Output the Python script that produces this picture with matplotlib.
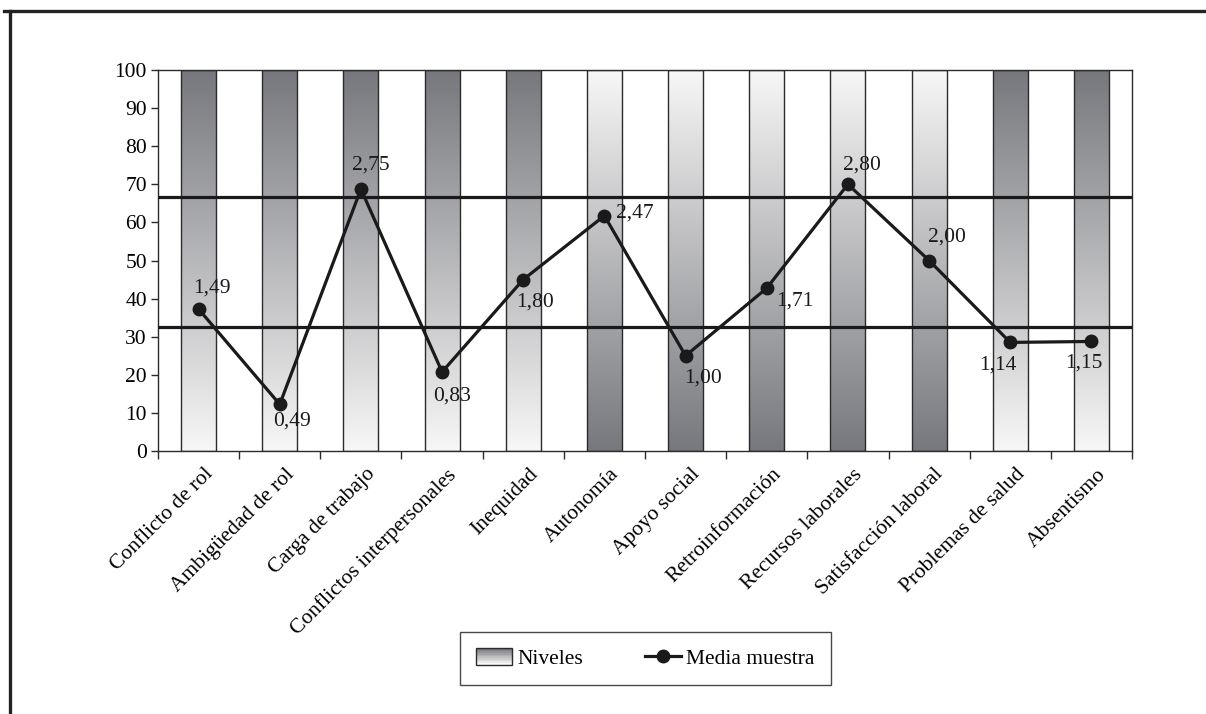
import numpy as np
import matplotlib
matplotlib.use("Agg")
import matplotlib.pyplot as plt
from matplotlib.colors import LinearSegmentedColormap
from matplotlib.lines import Line2D
from matplotlib.patches import Rectangle
from matplotlib.legend_handler import HandlerBase

# --- data -------------------------------------------------------------
categorias = [
    "Conflicto de rol", "Ambigüedad de rol", "Carga de trabajo",
    "Conflictos interpersonales", "Inequidad", "Autonomía", "Apoyo social",
    "Retroinformación", "Recursos laborales", "Satisfacción laboral",
    "Problemas de salud", "Absentismo",
]
# sample mean on the 0-4 response scale
media_muestra = [1.49, 0.49, 2.75, 0.83, 1.80, 2.47, 1.00, 1.71, 2.80, 2.00, 1.14, 1.15]
escala_max = 4.0
# level bands (percent of scale)
niveles = [100] * 12
# direction of the level shading: 'alto' = worst values at the top
polaridad = ["alto", "alto", "alto", "alto", "alto",
             "bajo", "bajo", "bajo", "bajo", "bajo",
             "alto", "alto"]
cortes = [32.5, 66.7]
y_ticks = list(range(0, 101, 10))

# --- style ------------------------------------------------------------
plt.rcParams["font.family"] = ["Liberation Serif", "DejaVu Serif"]
FS = 15.5
dark = "#77787d"
light = "#f7f7f7"
cmap = LinearSegmentedColormap.from_list("niv", [light, dark])

fig = plt.figure(figsize=(12.06, 7.14), dpi=100)
ax = fig.add_axes([158 / 1206, 1 - 451 / 714, (1132 - 158) / 1206, (451 - 70) / 714])

x = np.arange(len(categorias))
w = 0.43
grad = np.linspace(0, 1, 256).reshape(-1, 1)
for xi, h, pol in zip(x, niveles, polaridad):
    g = grad if pol == "alto" else grad[::-1]
    ax.imshow(g, cmap=cmap, vmin=0, vmax=1, extent=[xi - w / 2, xi + w / 2, 0, h],
              origin="lower", aspect="auto", zorder=1, interpolation="bilinear")
ax.bar(x, niveles, width=w, fill=False, edgecolor="#2b2b2b", linewidth=1.0, zorder=2)

for c in cortes:
    ax.axhline(c, color="#1a1a1a", linewidth=2.3, zorder=3)

y_pct = [m / escala_max * 100 for m in media_muestra]
ax.plot(x, y_pct, color="#1a1a1a", linewidth=2.3, marker="o", markersize=9,
        markerfacecolor="#1a1a1a", markeredgecolor="#1a1a1a", zorder=4)

# label placement in pixels relative to each point
desp = [(13, 21), (12, -17), (10, 24), (10, -24), (12, -22), (30, 3),
        (17, -22), (28, -13), (14, 19), (18, 23), (-12, -23), (-8, -22)]
for xi, yi, m, (dx, dy) in zip(x, y_pct, media_muestra, desp):
    ax.annotate(f"{m:.2f}".replace(".", ","), (xi, yi), xytext=(dx, dy),
                textcoords="offset pixels", ha="center", va="center",
                fontsize=FS, color="#1a1a1a", zorder=5)

ax.set_xlim(-0.5, len(categorias) - 0.5)
ax.set_ylim(0, 100)
ax.set_yticks(y_ticks)
ax.set_yticklabels([str(t) for t in y_ticks], fontsize=FS)
# category names sit slightly right of each centre, slanted
ax.set_xticks(x + 0.06)
ax.set_xticklabels(categorias, rotation=45, ha="right", va="top",
                   rotation_mode="anchor", fontsize=FS)
ax.set_xticks(np.arange(-0.5, len(categorias)), minor=True)
ax.tick_params(axis="x", which="major", length=0, pad=10)
ax.tick_params(axis="x", which="minor", length=6, width=1, color="#2b2b2b", direction="out")
ax.tick_params(axis="y", length=5, width=1, color="#2b2b2b", direction="out", pad=3)
for s in ax.spines.values():
    s.set_color("#2b2b2b")
    s.set_linewidth(1.0)


class GradientHandler(HandlerBase):
    def create_artists(self, legend, orig_handle, xdescent, ydescent, width,
                       height, fontsize, trans):
        arts = []
        n = 10
        for i in range(n):
            frac = i / (n - 1)
            col = cmap(frac)
            arts.append(Rectangle((-xdescent, -ydescent + height * i / n), width,
                                  height / n, facecolor=col, edgecolor="none",
                                  transform=trans))
        arts.append(Rectangle((-xdescent, -ydescent), width, height, fill=False,
                              edgecolor="#2b2b2b", linewidth=1.0, transform=trans))
        return arts


h_niv = Rectangle((0, 0), 1, 1)
h_med = Line2D([], [], color="#1a1a1a", linewidth=2.3, marker="o", markersize=9)
leg = fig.legend([h_niv, h_med], ["Niveles", "Media muestra"],
                 handler_map={h_niv: GradientHandler()},
                 loc="center", bbox_to_anchor=(645.5 / 1206, 1 - 658.5 / 714),
                 ncol=2, fontsize=FS, frameon=True, fancybox=False,
                 edgecolor="#1a1a1a", handlelength=1.65, handleheight=0.8,
                 handletextpad=0.25, columnspacing=2.9, borderpad=0.75,
                 borderaxespad=0)
leg.get_frame().set_linewidth(1.0)

# outer frame (top and left edges)
fig.add_artist(Line2D([4 / 1206, 1], [1 - 11 / 714, 1 - 11 / 714], transform=fig.transFigure,
                      color="#222222", linewidth=2.4))
fig.add_artist(Line2D([10 / 1206, 10 / 1206], [0, 1 - 11 / 714], transform=fig.transFigure,
                      color="#222222", linewidth=2.4))

fig.savefig("out.png", dpi=100, facecolor="white")
